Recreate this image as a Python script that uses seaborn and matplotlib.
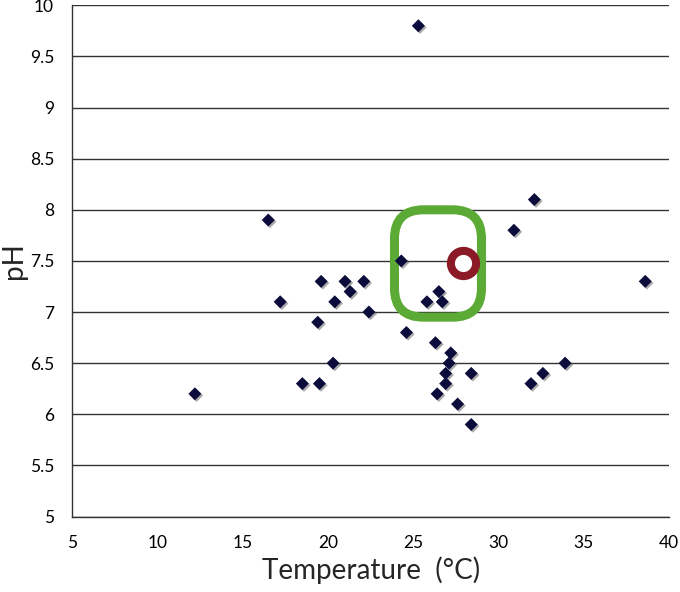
import pandas as pd
import matplotlib
matplotlib.use("Agg")
import matplotlib.pyplot as plt
import matplotlib.patheffects as pe
from matplotlib.patches import FancyBboxPatch
import seaborn as sns

# ===========================
# DATA
# ===========================
temperature = [12.2, 16.5, 17.2, 18.5, 19.4, 19.5, 19.6, 20.3, 20.4, 21.0,
               21.3, 22.1, 22.4, 24.3, 24.6, 25.3, 25.8, 26.3, 26.4, 26.5,
               26.7, 26.9, 26.9, 27.1, 27.2, 27.6, 28.4, 28.4, 30.9, 31.9,
               32.1, 32.6, 33.9, 38.6]
ph = [6.2, 7.9, 7.1, 6.3, 6.9, 6.3, 7.3, 6.5, 7.1, 7.3,
      7.2, 7.3, 7.0, 7.5, 6.8, 9.8, 7.1, 6.7, 6.2, 7.2,
      7.1, 6.3, 6.4, 6.5, 6.6, 6.1, 5.9, 6.4, 7.8, 6.3,
      8.1, 6.4, 6.5, 7.3]

# highlighted point and box around it
target_temp = [27.9]
target_ph = [7.48]
box_temp = [23.9, 29.0]
box_ph = [6.95, 8.0]

df = pd.DataFrame({"Temperature": temperature, "pH": ph})

# ===========================
# PLOT
# ===========================
sns.set_style("white")
plt.rcParams["font.family"] = ["Lato", "DejaVu Sans"]

fig = plt.figure(figsize=(6.8, 5.92), dpi=100)
ax = fig.add_axes([0.106, 0.1275, 0.878, 0.8635])

# diamonds with a little drop shadow
sns.scatterplot(data=df, x="Temperature", y="pH", marker="D", s=44,
                color="#0c0c3c", edgecolor="none", ax=ax, zorder=4)
ax.collections[-1].set_path_effects([
    pe.SimplePatchShadow(offset=(1.2, -1.2), shadow_rgbFace="#555555", alpha=0.5),
    pe.Normal(),
])

# green rounded box
box = FancyBboxPatch((box_temp[0], box_ph[0]), box_temp[1] - box_temp[0],
                     box_ph[1] - box_ph[0],
                     boxstyle="round,pad=0,rounding_size=1.7",
                     mutation_aspect=0.1666,
                     facecolor="none", edgecolor="#5caa36", linewidth=6.5,
                     zorder=3)
ax.add_patch(box)

# red ring
ax.scatter(target_temp, target_ph, s=330, facecolor="white",
           edgecolor="#8b1a26", linewidth=5.8, zorder=5)

# axes
ax.set_xlim(5, 40)
ax.set_ylim(5, 10)
ax.set_xticks(range(5, 41, 5))
ax.set_yticks([5, 5.5, 6, 6.5, 7, 7.5, 8, 8.5, 9, 9.5, 10])
ax.set_yticklabels(["5", "5.5", "6", "6.5", "7", "7.5", "8", "8.5", "9", "9.5", "10"])
ax.yaxis.grid(True, color="#333333", linewidth=1.0)
ax.xaxis.grid(False)
ax.tick_params(axis="both", length=0, labelsize=12.5, colors="black")
ax.tick_params(axis="y", pad=13)
ax.tick_params(axis="x", pad=13)
for side in ["top", "right"]:
    ax.spines[side].set_visible(False)
for side in ["left", "bottom"]:
    ax.spines[side].set_color("#333333")
    ax.spines[side].set_linewidth(1.0)

ax.set_xlabel("Temperature  (°C)", fontsize=20, labelpad=4)
ax.set_ylabel("pH", fontsize=20, labelpad=2)

fig.savefig("out.png", dpi=100)
